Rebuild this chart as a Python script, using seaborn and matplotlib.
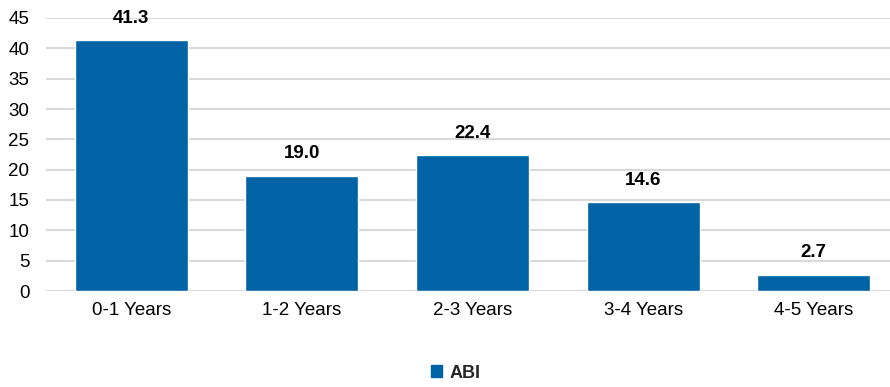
import seaborn as sns
import matplotlib.pyplot as plt
import pandas as pd
from matplotlib.patches import Patch

## Chart data
categories = ["0-1 Years", "1-2 Years", "2-3 Years", "3-4 Years", "4-5 Years"]
abi_values = [41.3, 19.0, 22.4, 14.6, 2.7]
series_name = "ABI"

df = pd.DataFrame({"bucket": categories, "value": abi_values})

sns.set_style("white")
plt.rcParams['font.family'] = ['Liberation Sans', 'DejaVu Sans']

bar_color = "#0063A6"

fig = plt.figure(figsize=(8.9, 3.87), dpi=100)
ax = fig.add_axes([46 / 890, 96 / 387, 853 / 890, 273 / 387])

sns.barplot(x="bucket", y="value", data=df, color=bar_color, width=0.663,
            saturation=1, ax=ax, zorder=3)

# Value labels above bars
for i, v in enumerate(abi_values):
    ax.text(i, v + 2.2, f"{v:.1f}", ha="center", va="bottom",
            fontsize=13.5, fontweight="bold", color="black")

ax.set_ylim(0, 45)
ax.set_yticks(range(0, 46, 5))
ax.set_xlim(-0.5, 4.5)
ax.grid(axis="y", color="#D9D9D9", linewidth=1.5, zorder=0)
ax.set_axisbelow(True)
for s in ax.spines.values():
    s.set_visible(False)
ax.tick_params(axis="both", length=0, labelsize=13.5, colors="black")
ax.tick_params(axis="x", pad=8)
ax.tick_params(axis="y", pad=12)
ax.set_xlabel("")
ax.set_ylabel("")

# Legend at bottom center
handle = Patch(facecolor=bar_color, edgecolor=bar_color, label=series_name)
leg = fig.legend(handles=[handle], loc="center", bbox_to_anchor=(456 / 890, 1 - 373 / 387),
                 frameon=False, handlelength=0.6, handleheight=0.6, handletextpad=0.4,
                 prop={"size": 13, "weight": "bold"})

fig.savefig("out.png", dpi=100)
